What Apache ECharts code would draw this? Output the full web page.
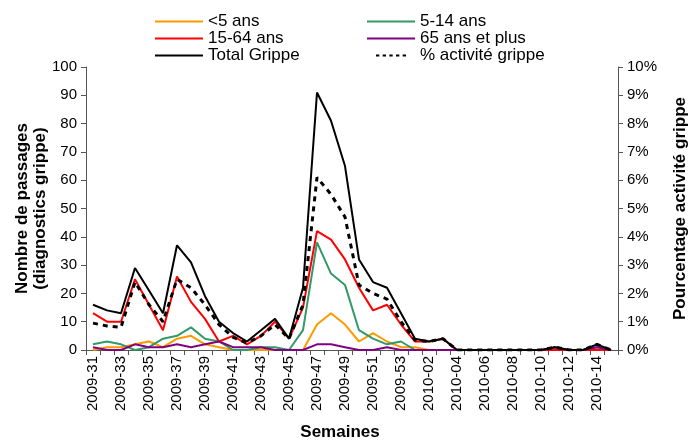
<!DOCTYPE html>
<html><head><meta charset="utf-8">
<script src="https://cdn.jsdelivr.net/npm/echarts@6/dist/echarts.min.js"></script>
<style>html,body{margin:0;padding:0;background:#fff}#c{width:690px;height:440px}</style>
</head><body><div id="c"></div>
<script>
const weeks = ['2009-31','2009-32','2009-33','2009-34','2009-35','2009-36','2009-37','2009-38','2009-39','2009-40','2009-41','2009-42','2009-43','2009-44','2009-45','2009-46','2009-47','2009-48','2009-49','2009-50','2009-51','2009-52','2009-53','2010-01','2010-02','2010-03','2010-04','2010-05','2010-06','2010-07','2010-08','2010-09','2010-10','2010-11','2010-12','2010-13','2010-14','2010-15'];
const under5   = [0,1,1,2,3,1,4,5,2,1,0,0,0,0,0,0,9,13,9,3,6,3,1,1,0,0,0,0,0,0,0,0,0,0,0,0,0,0];
const age5to14 = [2,3,2,0,1,4,5,8,4,3,0,0,1,1,0,7,38,27,23,7,4,2,3,0,0,0,0,0,0,0,0,0,0,0,0,0,1,0];
const age15to64= [13,10,10,25,16,7,26,17,11,3,5,2,5,10,4,15,42,39,32,22,14,16,9,3,3,4,0,0,0,0,0,0,0,0,0,0,0,0];
const age65plus= [1,0,0,2,1,1,2,1,2,3,1,1,1,0,0,0,2,2,1,0,0,1,0,0,0,0,0,0,0,0,0,0,0,1,0,0,1,0];
const totalGrippe=[16,14,13,29,21,13,37,31,19,10,6,3,7,11,4,22,91,81,65,32,24,22,13,4,3,4,0,0,0,0,0,0,0,1,0,0,2,0];
const pctActivite=[0.95,0.85,0.8,2.4,1.6,1.0,2.5,2.2,1.6,0.9,0.45,0.25,0.5,0.9,0.4,1.6,6.1,5.5,4.7,2.3,2.0,1.8,1.0,0.35,0.3,0.4,0,0,0,0,0,0,0,0.1,0,0,0.2,0];
const leftTicks = {min:0,max:100,interval:10};
const rightTicks = {min:0,max:10,interval:1};

const F = 'Liberation Sans, Arial, sans-serif';
const axisCol = '#555';
const solidIcon = 'path://M0,0H48V2H0Z';
const dashIcon = 'path://M0,0H5V3H0Z M10,0H15V3H10Z M20,0H25V3H20Z M30,0H35V3H30Z M40,0H45V3H40Z';
function ln(name,data,color,extra){
  return Object.assign({name,type:'line',data,symbol:'none',smooth:false,
    lineStyle:{color,width:2},itemStyle:{color},animation:false},extra||{});
}
const legendBase = {orient:'vertical',top:13,padding:0,itemWidth:48,itemHeight:2,itemGap:0,
  textStyle:{fontSize:17,color:'#000',fontFamily:F,lineHeight:16.5}};
const chart = echarts.init(document.getElementById('c'),null,{renderer:'canvas'});
chart.setOption({
  animation:false,
  textStyle:{fontFamily:F},
  grid:{left:86,right:72,top:67,bottom:90,outerBoundsMode:'none',containLabel:false},
  legend:[
    Object.assign({left:155,data:[{name:'<5 ans',icon:solidIcon},{name:'15-64 ans',icon:solidIcon},{name:'Total Grippe',icon:solidIcon}]},legendBase),
    Object.assign({left:367,data:[{name:'5-14 ans',icon:solidIcon},{name:'65 ans et plus',icon:solidIcon},{name:'% activité grippe',icon:dashIcon,itemStyle:{color:'#000'}}]},legendBase)
  ],
  xAxis:{type:'category',data:weeks,boundaryGap:true,
    name:'Semaines',nameLocation:'middle',nameGap:74,nameMoveOverlap:false,
    nameTextStyle:{fontSize:17,fontWeight:'bold',color:'#000',fontFamily:F,padding:[0,24,0,0]},
    axisLine:{lineStyle:{color:axisCol,width:1}},
    axisTick:{show:true,interval:0,length:5,lineStyle:{color:axisCol}},
    axisLabel:{interval:1,rotate:90,fontSize:15,color:'#000',fontFamily:F,margin:6},
    splitLine:{show:false}},
  yAxis:[
    {type:'value',min:leftTicks.min,max:leftTicks.max,interval:leftTicks.interval,position:'left',
     name:'Nombre de passages\n(diagnostics grippe)',nameLocation:'middle',nameGap:37,nameRotate:90,nameMoveOverlap:false,
     nameTextStyle:{fontSize:17,fontWeight:'bold',color:'#000',fontFamily:F,lineHeight:18},
     axisLine:{show:true,lineStyle:{color:axisCol}},
     axisTick:{show:true,length:5,lineStyle:{color:axisCol}},
     axisLabel:{fontSize:15,color:'#000',fontFamily:F,margin:9},
     splitLine:{show:false}},
    {type:'value',min:rightTicks.min,max:rightTicks.max,interval:rightTicks.interval,position:'right',
     name:'Pourcentage activité grippe',nameLocation:'middle',nameGap:54,nameRotate:90,nameMoveOverlap:false,
     nameTextStyle:{fontSize:17,fontWeight:'bold',color:'#000',fontFamily:F},
     axisLine:{show:true,lineStyle:{color:axisCol}},
     axisTick:{show:true,length:5,inside:false,lineStyle:{color:axisCol}},
     axisLabel:{fontSize:15,color:'#000',fontFamily:F,margin:9,formatter:'{value}%'},
     splitLine:{show:false}}
  ],
  series:[
    ln('<5 ans',under5,'#FF9900'),
    ln('5-14 ans',age5to14,'#339966'),
    ln('15-64 ans',age15to64,'#FF0000'),
    ln('65 ans et plus',age65plus,'#800080'),
    ln('Total Grippe',totalGrippe,'#000000'),
    ln('% activité grippe',pctActivite,'#000000',{yAxisIndex:1,lineStyle:{color:'#000',width:3,type:[5,5]}})
  ]
});
</script></body></html>
